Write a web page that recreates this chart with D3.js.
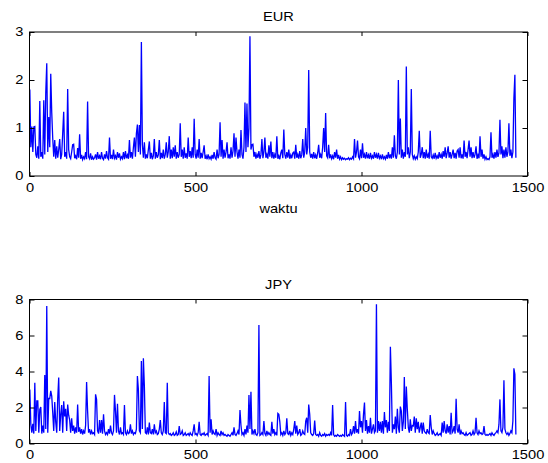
<!DOCTYPE html>
<html>
<head>
<meta charset="utf-8">
<script src="https://cdn.jsdelivr.net/npm/d3@7"></script>
<style>
  body { margin: 0; background: #fff; }
  text { font-family: "Liberation Sans", Arial, sans-serif; }
</style>
</head>
<body>
<div id="chart"></div>
<script>
// one value every 3 time steps (t = 1, 4, 7, ...)
var step = 3;

var eur = [
  1.8, 0.6, 1.03, 0.5, 1.02, 1.03, 0.45, 0.38, 0.62, 0.36, 1.56, 0.4, 0.5, 0.36, 1.58, 0.45, 1.74, 2.35, 0.5, 1.23,
  0.6, 2.13, 1.32, 0.78, 0.4, 0.75, 0.36, 0.62, 0.38, 0.55, 0.77, 0.35, 0.45, 0.89, 1.34, 0.4, 0.5, 0.36, 1.81, 0.55,
  0.4, 0.36, 0.5, 0.65, 0.66, 0.37, 0.42, 0.35, 0.58, 0.38, 0.87, 0.36, 0.44, 0.34, 0.4, 0.36, 0.5, 0.35, 1.55, 0.4,
  0.36, 0.47, 0.34, 0.4, 0.35, 0.38, 0.45, 0.34, 0.5, 0.36, 0.42, 0.35, 0.5, 0.37, 0.34, 0.45, 0.36, 0.52, 0.38, 0.35,
  0.8, 0.36, 0.44, 0.35, 0.55, 0.37, 0.42, 0.34, 0.5, 0.38, 0.47, 0.35, 0.4, 0.36, 0.5, 0.35, 0.52, 0.37, 0.44, 0.36,
  0.75, 0.38, 0.5, 0.36, 0.6, 0.8, 0.4, 0.89, 1.07, 0.5, 1.06, 0.45, 2.79, 0.65, 0.38, 0.7, 0.36, 0.45, 0.37, 0.55,
  0.72, 0.36, 0.48, 0.35, 0.42, 0.77, 0.36, 0.5, 0.38, 0.44, 0.75, 0.35, 0.48, 0.37, 0.55, 0.36, 0.45, 0.7, 0.38, 0.5,
  0.83, 0.36, 0.55, 0.37, 0.6, 0.4, 0.64, 0.36, 0.5, 0.38, 0.45, 1.1, 0.4, 0.55, 0.36, 0.6, 0.38, 0.47, 0.36, 0.8,
  0.4, 0.52, 0.37, 0.6, 0.38, 1.19, 0.45, 0.36, 0.55, 0.38, 0.77, 0.36, 0.48, 0.37, 0.5, 0.64, 0.36, 0.42, 0.35, 0.45,
  0.36, 0.4, 0.35, 0.44, 0.36, 0.5, 0.38, 0.35, 0.55, 0.37, 0.45, 1.12, 0.4, 0.75, 0.36, 0.55, 0.38, 0.5, 0.7, 0.37,
  0.45, 0.36, 0.6, 0.38, 0.52, 0.89, 0.4, 0.8, 0.5, 0.36, 0.55, 0.38, 0.96, 0.45, 0.36, 0.6, 1.53, 0.5, 1.51, 0.6,
  1.0, 2.91, 0.55, 0.65, 0.66, 0.4, 0.5, 0.36, 0.45, 0.38, 0.52, 0.36, 0.44, 0.77, 0.37, 0.5, 0.8, 0.38, 0.45, 0.36,
  0.64, 0.4, 0.72, 0.37, 0.5, 0.36, 0.45, 0.38, 0.83, 0.36, 0.42, 0.35, 0.48, 0.55, 0.37, 0.97, 0.45, 0.36, 0.5, 0.38,
  0.55, 0.36, 0.44, 0.37, 0.48, 0.5, 0.36, 0.65, 0.38, 0.45, 0.36, 0.52, 0.37, 0.44, 0.77, 0.38, 0.5, 1.0, 0.45, 0.6,
  2.21, 0.5, 0.38, 0.46, 0.36, 0.5, 0.37, 0.44, 0.36, 0.48, 0.65, 0.38, 0.45, 0.37, 0.6, 1.0, 0.5, 1.31, 0.42, 0.38,
  0.65, 0.37, 0.45, 0.36, 0.42, 0.35, 0.5, 0.38, 0.55, 0.36, 0.44, 0.35, 0.4, 0.34, 0.38, 0.35, 0.37, 0.34, 0.36, 0.35,
  0.38, 0.34, 0.37, 0.35, 0.4, 0.36, 0.77, 0.38, 0.5, 0.74, 0.4, 0.36, 0.55, 0.37, 0.68, 0.38, 0.45, 0.36, 0.5, 0.37,
  0.44, 0.36, 0.48, 0.37, 0.42, 0.36, 0.5, 0.38, 0.45, 0.36, 0.48, 0.37, 0.42, 0.35, 0.45, 0.36, 0.4, 0.35, 0.44, 0.36,
  0.5, 0.37, 0.45, 0.36, 0.6, 0.38, 0.85, 0.42, 0.36, 0.5, 2.0, 0.45, 1.2, 0.38, 0.55, 0.36, 0.5, 0.4, 2.28, 0.45,
  0.6, 0.37, 0.5, 1.81, 0.45, 0.36, 0.42, 0.35, 0.4, 0.36, 0.5, 0.94, 0.38, 0.45, 0.6, 0.37, 0.5, 0.36, 0.55, 0.38,
  0.45, 0.36, 0.94, 0.4, 0.37, 0.44, 0.36, 0.48, 0.37, 0.42, 0.36, 0.5, 0.38, 0.45, 0.36, 0.52, 0.4, 0.6, 0.37, 0.48,
  0.62, 0.38, 0.5, 0.36, 0.45, 0.55, 0.37, 0.48, 0.36, 0.52, 0.55, 0.38, 0.6, 0.37, 0.45, 0.36, 0.74, 0.4, 0.5, 0.37,
  0.55, 0.74, 0.4, 0.6, 0.37, 0.5, 0.38, 0.45, 0.62, 0.36, 0.44, 0.37, 0.83, 0.4, 0.55, 0.36, 0.45, 0.35, 0.4, 0.34,
  0.36, 0.34, 0.4, 0.91, 0.38, 0.45, 0.36, 0.5, 0.38, 0.55, 0.4, 0.48, 1.17, 0.45, 0.62, 0.37, 0.55, 0.38, 0.6, 0.4,
  0.5, 1.1, 0.42, 0.55, 0.37, 0.5, 1.62, 2.11, 0.38
];

var jpy = [
  3.0, 1.07, 0.6, 1.1, 0.55, 3.38, 0.7, 2.36, 2.36, 0.6, 1.9, 2.03, 0.55, 1.0, 0.6, 3.8, 0.8, 7.64, 0.6, 2.5,
  2.5, 2.92, 2.63, 1.71, 0.7, 2.3, 1.2, 0.6, 2.48, 3.66, 0.7, 1.62, 2.14, 0.6, 2.34, 1.5, 1.93, 0.7, 2.17, 1.57,
  1.3, 0.6, 1.4, 0.7, 1.0, 0.55, 0.9, 0.6, 2.17, 0.65, 0.9, 0.55, 0.8, 0.5, 0.7, 0.55, 1.0, 3.42, 1.8, 0.6,
  0.8, 0.5, 0.7, 0.55, 0.6, 0.5, 2.73, 2.45, 0.7, 0.55, 1.3, 0.6, 1.3, 0.55, 1.62, 0.7, 0.5, 0.6, 0.5, 0.8,
  0.55, 1.0, 0.6, 0.5, 0.7, 2.7, 1.8, 0.6, 2.21, 0.7, 0.5, 0.9, 0.55, 0.6, 0.5, 2.14, 0.6, 0.5, 0.7, 0.55,
  0.6, 1.06, 0.55, 0.7, 0.5, 0.6, 0.55, 0.8, 3.75, 3.0, 0.7, 0.6, 4.58, 0.8, 4.73, 3.2, 0.6, 0.55, 0.9, 0.5,
  1.16, 0.6, 0.55, 0.8, 0.5, 1.06, 0.6, 0.7, 0.5, 0.55, 0.8, 1.3, 0.6, 0.5, 0.7, 2.3, 0.6, 0.55, 3.38, 0.6,
  0.5, 0.55, 0.45, 0.5, 0.6, 0.45, 0.5, 0.65, 0.45, 0.5, 0.97, 0.5, 0.55, 0.7, 0.45, 0.5, 0.6, 0.45, 0.5, 0.55,
  0.45, 0.6, 0.5, 0.45, 0.7, 1.06, 0.5, 0.55, 0.45, 0.6, 1.2, 0.5, 0.45, 0.55, 0.5, 0.6, 0.45, 0.5, 0.55, 0.45,
  3.75, 0.6, 1.34, 0.5, 0.7, 0.55, 0.5, 0.8, 0.45, 0.6, 0.5, 0.45, 0.7, 0.5, 0.6, 0.45, 0.5, 0.45, 0.4, 0.5,
  0.45, 0.4, 0.5, 0.6, 0.45, 0.9, 0.5, 0.45, 0.55, 0.7, 0.5, 1.86, 1.0, 0.5, 0.6, 0.45, 0.8, 0.5, 1.0, 0.6,
  2.7, 0.8, 2.88, 0.5, 0.7, 0.55, 0.8, 0.5, 0.45, 0.6, 6.58, 0.45, 0.5, 0.6, 0.5, 1.25, 0.55, 0.45, 0.7, 0.5,
  0.6, 0.5, 0.45, 1.2, 0.55, 0.8, 0.5, 0.6, 0.45, 1.67, 1.62, 1.2, 0.5, 0.6, 0.45, 0.7, 0.5, 0.6, 1.4, 0.55,
  0.5, 0.7, 0.45, 0.6, 0.5, 0.8, 1.25, 0.55, 1.0, 0.5, 0.6, 0.8, 0.45, 0.5, 0.7, 0.55, 0.5, 1.25, 1.43, 0.6,
  2.16, 1.62, 0.6, 0.5, 0.45, 0.55, 1.28, 0.5, 0.45, 0.5, 0.4, 0.6, 0.45, 0.4, 0.5, 0.45, 0.55, 0.4, 0.5, 0.45,
  0.5, 0.45, 0.6, 0.45, 2.14, 0.5, 0.4, 0.45, 0.4, 0.5, 0.45, 0.4, 0.45, 0.4, 0.5, 0.45, 0.4, 2.3, 0.45, 0.4,
  0.5, 0.45, 0.8, 0.5, 0.6, 0.97, 0.55, 1.25, 0.6, 0.8, 0.55, 1.8, 0.9, 1.25, 0.6, 1.62, 2.27, 0.7, 1.3, 0.55,
  0.97, 0.6, 1.43, 0.55, 0.8, 1.06, 0.6, 0.7, 7.73, 0.6, 1.25, 0.7, 1.2, 0.6, 1.25, 0.55, 1.75, 0.9, 1.3, 0.6,
  1.2, 0.7, 5.38, 3.34, 0.6, 1.06, 0.8, 1.5, 0.55, 1.93, 0.9, 0.6, 2.05, 1.8, 0.7, 1.2, 3.69, 0.8, 3.16, 1.9,
  0.9, 0.6, 1.34, 0.7, 1.0, 0.97, 1.5, 0.6, 1.4, 0.8, 1.2, 0.6, 0.9, 1.16, 0.55, 1.16, 0.7, 0.6, 0.55, 0.8,
  0.6, 0.55, 1.58, 0.9, 0.5, 0.7, 0.55, 0.45, 0.5, 0.6, 0.45, 0.5, 0.55, 0.45, 1.16, 0.6, 1.25, 0.7, 0.55, 1.06,
  0.6, 0.97, 0.5, 1.71, 0.6, 0.7, 0.97, 0.55, 2.49, 0.8, 0.6, 1.06, 0.5, 0.7, 0.55, 0.6, 0.5, 0.45, 0.6, 0.45,
  0.5, 0.55, 0.6, 0.45, 0.5, 0.7, 0.5, 0.6, 1.43, 0.6, 0.5, 0.7, 0.55, 0.6, 0.5, 0.55, 0.97, 0.5, 0.45, 0.5,
  0.45, 0.5, 0.55, 0.45, 0.6, 0.5, 0.45, 0.55, 0.6, 0.7, 0.6, 1.06, 2.45, 0.7, 0.6, 0.9, 3.51, 0.8, 0.6, 0.5,
  0.6, 0.45, 0.55, 0.7, 0.6, 1.25, 4.18, 3.85, 0.5
];

var xTicks = [0, 500, 1000, 1500];
var eurTicks = [0, 1, 2, 3];
var jpyTicks = [0, 2, 4, 6, 8];

var width = 548;
var height = 463;
var left = 29.5, right = 527.5, panelH = 144;
var fontSize = "12px";
var stretch = "scale(1.22,1)";   // the picture's lettering is wider than plain Arial

var svg = d3.select("#chart")
    .append("svg")
      .attr("width", width)
      .attr("height", height);

svg.append("rect").attr("width", width).attr("height", height).attr("fill", "#fff");

function drawPanel(values, yMax, yTicks, top, title, xLabel) {
  var x = d3.scaleLinear().domain([0, 1500]).range([left, right]);
  var y = d3.scaleLinear().domain([0, yMax]).range([top + panelH, top]);

  var g = svg.append("g");

  g.append("path")
    .datum(values)
    .attr("fill", "none")
    .attr("stroke", "#0000ff")
    .attr("stroke-width", 1.3)
    .attr("stroke-linejoin", "miter")
    .attr("d", d3.line()
      .x(function(d, i) { return x(1 + i * step); })
      .y(function(d) { return y(d); }));

  // bottom and left with labels, top and right ticks only (box on)
  g.append("g")
    .attr("transform", "translate(0," + (top + panelH) + ")")
    .call(d3.axisBottom(x).tickValues(xTicks).tickSize(-4).tickPadding(7).tickFormat(d3.format("d")));
  g.append("g")
    .attr("transform", "translate(0," + top + ")")
    .call(d3.axisTop(x).tickValues(xTicks).tickSize(-4).tickFormat(""));
  g.append("g")
    .attr("transform", "translate(" + left + ",0)")
    .call(d3.axisLeft(y).tickValues(yTicks).tickSize(-5).tickPadding(5).tickFormat(d3.format("d")));
  g.append("g")
    .attr("transform", "translate(" + right + ",0)")
    .call(d3.axisRight(y).tickValues(yTicks).tickSize(-5).tickFormat(""));

  g.selectAll(".domain").remove();
  g.selectAll(".tick line").attr("stroke", "#000");
  g.selectAll(".tick text")
    .attr("fill", "#000")
    .attr("transform", stretch)
    .style("font-size", fontSize)
    .style("font-family", "'Liberation Sans', Arial, sans-serif");

  g.append("rect")
    .attr("x", left)
    .attr("y", top)
    .attr("width", right - left)
    .attr("height", panelH)
    .attr("fill", "none")
    .attr("stroke", "#000")
    .attr("stroke-width", 1);

  g.append("text")
    .attr("transform", "translate(" + ((left + right) / 2) + "," + (top - 11) + ") " + stretch)
    .attr("text-anchor", "middle")
    .style("font-size", fontSize)
    .text(title);

  if (xLabel) {
    g.append("text")
      .attr("transform", "translate(" + ((left + right) / 2) + "," + (top + panelH + 37) + ") " + stretch)
      .attr("text-anchor", "middle")
      .style("font-size", fontSize)
      .text(xLabel);
  }
}

drawPanel(eur, 3, eurTicks, 32, "EUR", "waktu");
drawPanel(jpy, 8, jpyTicks, 299.5, "JPY", null);
</script>
</body>
</html>
